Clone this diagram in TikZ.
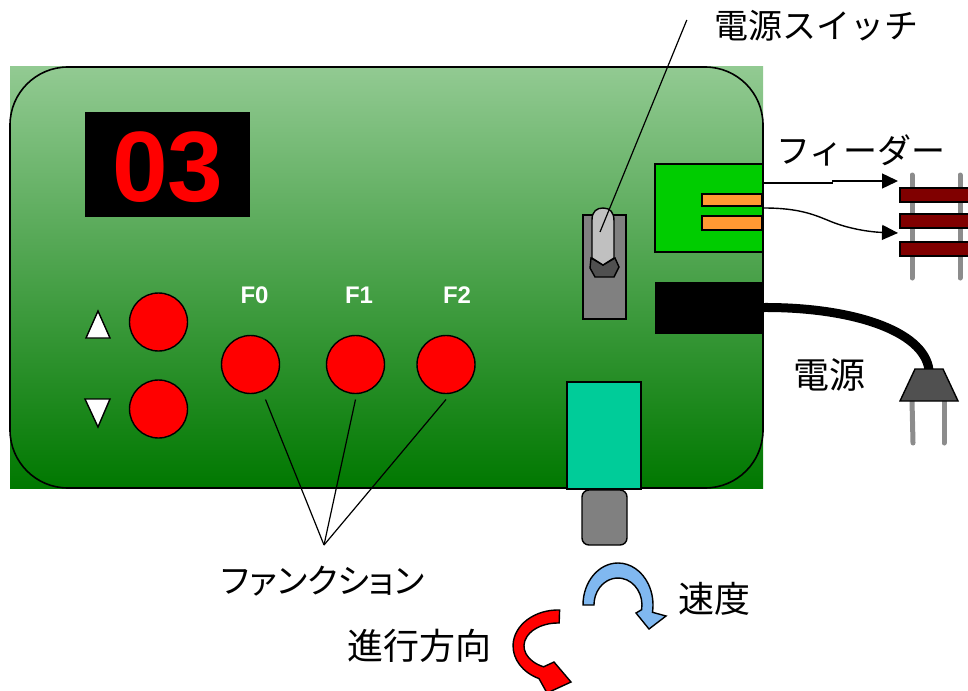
\documentclass[tikz,border=0pt]{standalone}
\usepackage{fontspec}
\setsansfont{Liberation Sans}
\newfontfamily\jpfont{Noto Sans CJK JP}
\newfontfamily\jppropfont[RawFeature=+palt]{Noto Sans CJK JP}
\usetikzlibrary{arrows.meta}

\definecolor{boardtop}{RGB}{146,202,146}
\definecolor{boardmid}{RGB}{80,163,80}
\definecolor{boardbot}{RGB}{0,120,0}
\definecolor{swgray}{RGB}{128,128,128}
\definecolor{leverlight}{RGB}{192,192,192}
\definecolor{knobdark}{RGB}{80,80,80}
\definecolor{feedgreen}{RGB}{0,204,0}
\definecolor{contact}{RGB}{255,153,51}
\definecolor{tiered}{RGB}{128,0,0}
\definecolor{railgray}{RGB}{140,140,140}
\definecolor{speedteal}{RGB}{0,204,153}
\definecolor{speedblue}{RGB}{128,184,240}

\begin{document}
\begin{tikzpicture}[
  x=1pt, y=-1pt,
  outline/.style={draw=black, line width=1.4pt},
  key/.style={circle, outline, fill=red, minimum size=58pt, inner sep=0pt},
  fname/.style={text=white, font=\sffamily\bfseries\fontsize{24}{24}\selectfont},
  jp/.style={inner sep=0pt, font=\jpfont\fontsize{34}{40}\selectfont},
  jpbig/.style={inner sep=0pt, font=\jpfont\fontsize{36}{42}\selectfont},
  lead/.style={line width=1.2pt},
  feed/.style={line width=1.4pt, -{Triangle[length=16pt,width=15pt]}},
  rail/.style={line width=5pt, railgray, line cap=round},
  tie/.style={outline, fill=tiered},
]
  \useasboundingbox (0,0) rectangle (968,690);

  % Board
  \fill[top color=boardtop, middle color=boardmid, bottom color=boardbot]
    (10,67) rectangle (763,488);
  \draw[line width=1.6pt, rounded corners=58pt] (10,67) rectangle (763,488);

  % Display
  \node[fill=black, minimum width=165pt, minimum height=105pt, inner sep=0pt]
    (disp) at (167.5,164.5) {};
  \node[text=red, font=\sffamily\bfseries\fontsize{100}{100}\selectfont]
    (count) at (168,167) {03};

  % Up / down keys
  \node[key] (up) at (158.5,322) {};
  \node[key] (down) at (158.5,409) {};
  \draw[outline, fill=white] (86,338) -- (110,338) -- (98,311) -- cycle;
  \draw[outline, fill=white] (85,399) -- (110,399) -- (98,427) -- cycle;

  % Function keys
  \node[key] (f0) at (250.5,364.5) {};
  \node[key] (f1) at (355.5,364.5) {};
  \node[key] (f2) at (446,364.5) {};
  \node[fname] (f0name) at (254.5,295) {F0};
  \node[fname] (f1name) at (359,295) {F1};
  \node[fname] (f2name) at (457,295) {F2};

  \node[jp, font=\jppropfont\fontsize{34}{40}\selectfont] (funclbl) at (323,581) {ファンクション};
  \coordinate (fjoin) at (324,545);
  \foreach \k/\dx in {f0/15, f1/0, f2/0}
    \draw[lead] ([shift={(\dx,35)}]\k.center) -- (fjoin);

  % Power switch
  \node[outline, fill=swgray, minimum width=43pt, minimum height=104pt,
        inner sep=0pt] (swbase) at (604.5,267) {};
  \draw[outline, fill=knobdark] (591,258) -- (603,265) -- (615,258)
    -- (619,267) -- (614,277) -- (595,277) -- (590,268) -- cycle;
  \draw[outline, fill=leverlight] (592,258) -- (592,220)
    .. controls (592,211) and (597,208) .. (603,208)
    .. controls (610,208) and (614,212) .. (614,221)
    -- (614,258) -- (603,265) -- cycle;
  \coordinate (swtip) at (600,232);
  \node[jp] (swlbl) at (816,26) {電源スイッチ};
  \draw[lead] (swtip) -- ([shift={(-27,-6)}]swlbl.west);

  % Feeder output and track
  \node[outline, fill=feedgreen, minimum width=108pt, minimum height=88pt,
        inner sep=0pt] (feeder) at (709,208) {};
  \draw[outline, fill=contact] (702,194) rectangle (762,206);
  \draw[outline, fill=contact] (702,216) rectangle (762,230);
  \node[jp] (feedlbl) at (861,150) {フィーダー};

  \draw[rail] (912,175) -- (912,278);
  \draw[rail] (960,175) -- (960,278);
  \foreach \y in {188,214,242}
    \draw[tie] (900,\y) rectangle (985,{\y+14});

  \coordinate (railA) at (898,181);
  \coordinate (railB) at (898,233);
  \draw[feed] ([shift={(0,-25)}]feeder.east) -- ++(69,0) -- ++(0,-2) -- (railA);
  \draw[feed] (feeder.east) .. controls (800,208) and (815,215) .. (832,222)
    .. controls (850,229) and (870,232) .. (railB);

  % Power input and plug
  \node[fill=black, minimum width=108pt, minimum height=52pt, inner sep=0pt]
    (jack) at (709,307.5) {};
  \coordinate (plugtop) at (929,370);
  \draw[line width=9pt] (jack.east) .. controls (850,307) and (924,330) .. (plugtop);
  \draw[rail] (912,401) -- (913,443);
  \draw[rail] (944,401) -- (944,443);
  \draw[outline, fill=knobdark] (915,369) -- (943,369) -- (958,401)
    -- (900,401) -- cycle;
  \node[jpbig] (powlbl) at (829,375) {電源};

  % Speed knob
  \node[outline, fill=speedteal, minimum width=74pt, minimum height=107pt,
        inner sep=0pt] (speed) at (604,435.5) {};
  \node[outline, fill=swgray, rounded corners=7pt, minimum width=45pt,
        minimum height=55pt, inner sep=0pt] (knob) at (604.5,517.5) {};

  % Turn arrows
  \draw[outline, fill=speedblue] (583,605)
    arc[start angle=180, end angle=370, x radius=35, y radius=42]
    -- (666,616) -- (649,629) -- (636,613) -- (641.6,609.7)
    arc[start angle=370, end angle=180, x radius=24, y radius=27] -- cycle;
  \node[jpbig] (speedlbl) at (714,599) {速度};

  \draw[outline, fill=red] (559.6,610)
    arc[start angle=272, end angle=115, x radius=45, y radius=36]
    -- (547,693) -- (571,682) -- (554,662) -- (543.6,666.8)
    arc[start angle=115, end angle=272, x radius=34, y radius=23] -- cycle;
  \node[jpbig] (dirlbl) at (419,646) {進行方向};
\end{tikzpicture}
\end{document}
